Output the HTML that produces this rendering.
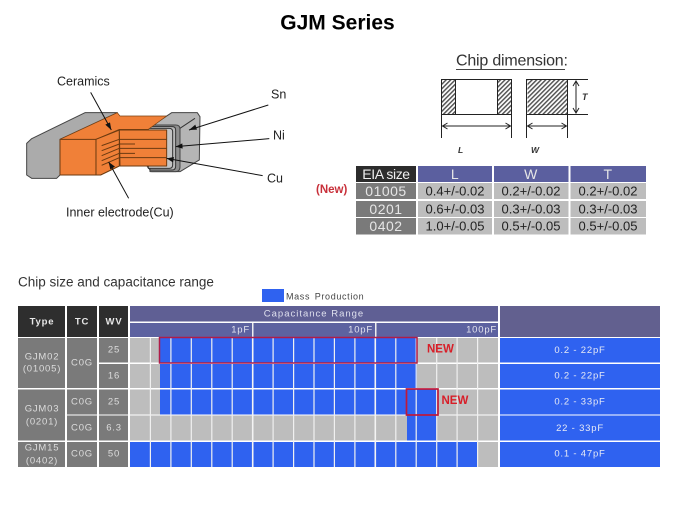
<!DOCTYPE html>
<html><head><meta charset="utf-8"><style>
html,body{margin:0;padding:0;background:#fff}
svg{display:block}
text{font-family:"Liberation Sans",sans-serif;dominant-baseline:central}
.m{text-anchor:middle}
.l{fill:#ddd;font-size:9.5px;letter-spacing:.8px;text-anchor:middle}
.h{fill:#e8e8e8;font-size:9.5px;font-weight:bold;letter-spacing:.8px;text-anchor:middle}
.p{fill:#e4e4ee;font-size:9.5px;letter-spacing:.8px;text-anchor:end}
.b{fill:#e6e9f5;font-size:9.5px;letter-spacing:.8px;text-anchor:middle}
.t{fill:#222;font-size:12.5px}
.d{fill:#222;font-size:13px;text-anchor:middle}
.e{fill:#e6e6e6;font-size:14px;text-anchor:middle;letter-spacing:.5px}
</style></head><body>
<svg width="675" height="506" viewBox="0 0 675 506" xmlns="http://www.w3.org/2000/svg">
<defs>
<pattern id="hatch" width="3.2" height="3.2" patternUnits="userSpaceOnUse" patternTransform="rotate(45)"><rect width="3.2" height="3.2" fill="#fff"/><rect width="1.5" height="3.2" fill="#555"/></pattern>
<marker id="o1" markerWidth="7" markerHeight="8" refX="1" refY="4" orient="auto" markerUnits="userSpaceOnUse"><path d="M6,1L1,4L6,7" fill="none" stroke="#222"/></marker>
<marker id="o2" markerWidth="7" markerHeight="8" refX="6" refY="4" orient="auto" markerUnits="userSpaceOnUse"><path d="M1,1L6,4L1,7" fill="none" stroke="#222"/></marker>
</defs>

<text x="337.5" y="23" class="m" style="font-size:21px;font-weight:bold" fill="#000">GJM Series</text>

<!-- capacitor -->
<g transform="translate(10,60) scale(.3333)" stroke-linejoin="round">
<path d="M415,205L485,158H562L570,170L568,300L510,335H425L412,320Z" fill="#b5b5b5" stroke="#444" stroke-width="3"/>
<path d="M412,195H497Q510,195 510,207V320Q510,335 497,335H420Z" fill="#8f8f8f" stroke="#444" stroke-width="3"/>
<path d="M412,200H487Q497,200 497,210V318Q497,330 487,330H420Z" fill="#b8b8b8" stroke="#333" stroke-width="3"/>
<path d="M412,205H478Q488,205 488,215V315Q488,325 478,325H415Z" fill="#c4c4c4" stroke="#333" stroke-width="3"/>
<path d="M510,205L555,175" stroke="#333" stroke-width="3" fill="none"/>
<path d="M50,250L65,236L225,158H322L150,238V345L140,355H65L50,345Z" fill="#ababab" stroke="#444" stroke-width="3"/>
<path d="M150,238L322,158L330,168H470L415,208H328L258,238Z" fill="#f08038" stroke="#7a4010" stroke-width="2"/>
<path d="M150,238H258V345H150Z" fill="#f08038" stroke="#6b3a10" stroke-width="3"/>
<path d="M258,238L328,210V318L272,345H258Z" fill="#f08038" stroke="#6b3a10" stroke-width="3"/>
<path d="M328,210H470V318H330Z" fill="#f08038" stroke="#6b3a10" stroke-width="3"/>
<g stroke="#6b3a10" stroke-width="3" fill="none">
<path d="M328,238H470M328,265H470M328,293H470"/>
<path d="M330,252H375M330,280H375"/>
<path d="M275,257L328,238M275,272L328,252M275,287L328,265M275,302L328,280M275,316L328,293"/>
</g>
<g stroke="#111" stroke-width="3" fill="none">
<path d="M242,97L304,210"/>
<path d="M775,135L537,210"/>
<path d="M778,236L497,260"/>
<path d="M758,347L470,295"/>
<path d="M356,415L296,306"/>
</g>
<g fill="#111">
<path d="M304,210L286,194L300,187Z"/>
<path d="M537,210L556,194L561,209Z"/>
<path d="M497,260L517,250L518,266Z"/>
<path d="M470,295L492,291L489,307Z"/>
<path d="M296,306L315,320L301,328Z"/>
</g>
</g>
<text x="57" y="81.500" class="t">Ceramics</text>
<text x="271" y="94.500" class="t">Sn</text>
<text x="273" y="135.500" class="t">Ni</text>
<text x="267" y="178.500" class="t">Cu</text>
<text x="66" y="212.500" class="t">Inner electrode(Cu)</text>

<!-- chip dimension -->
<text x="456" y="61" style="font-size:16px;letter-spacing:-.2px" fill="#333">Chip dimension:</text>
<path d="M456,69.500H565" stroke="#444" stroke-width="1"/>
<rect x="441.500" y="79.500" width="14" height="35" fill="url(#hatch)"/>
<rect x="497.500" y="79.500" width="14.500" height="35" fill="url(#hatch)"/>
<rect x="527.500" y="79.500" width="40" height="35" fill="url(#hatch)"/>
<g stroke="#222" stroke-width="1" fill="none">
<path d="M441,79.500H512M441,114.500H512M527,79.500H588M527,114.500H588"/>
<path d="M441.500,79V138M511.500,79V138M526.500,79V138M567.500,79V138M455.500,80V114M497.500,80V114"/>
<path d="M442.500,126H510.500" marker-start="url(#o1)" marker-end="url(#o2)"/>
<path d="M527.500,126H566.500" marker-start="url(#o1)" marker-end="url(#o2)"/>
<path d="M576,81V113" marker-start="url(#o1)" marker-end="url(#o2)"/>
</g>
<g style="font-style:italic;font-weight:bold;font-size:8.500px" fill="#333">
<text x="582" y="97" style="font-size:9px">T</text>
<text x="458" y="150">L</text>
<text x="531" y="150">W</text>
</g>

<!-- EIA table -->
<rect x="356" y="166" width="60" height="16" fill="#2c2c2c"/>
<g fill="#5b5f9f"><rect x="418" y="166" width="74" height="16"/><rect x="494" y="166" width="74.500" height="16"/><rect x="570.500" y="166" width="75.500" height="16"/></g>
<g fill="#7a7a7a"><rect x="356" y="183" width="60" height="16"/><rect x="356" y="201" width="60" height="16"/><rect x="356" y="218" width="60" height="16.500"/></g>
<g fill="#bdbdbd">
<rect x="418" y="183" width="74" height="16"/><rect x="494" y="183" width="74.500" height="16"/><rect x="570.500" y="183" width="75.500" height="16"/>
<rect x="418" y="201" width="74" height="16"/><rect x="494" y="201" width="74.500" height="16"/><rect x="570.500" y="201" width="75.500" height="16"/>
<rect x="418" y="218" width="74" height="16.500"/><rect x="494" y="218" width="74.500" height="16.500"/><rect x="570.500" y="218" width="75.500" height="16.500"/>
</g>
<text x="386" y="174" class="m" style="font-size:14px;letter-spacing:-.4px" fill="#eee">EIA size</text>
<text x="455" y="174" class="e" fill="#ddd">L</text><text x="531" y="174" class="e">W</text><text x="608" y="174" class="e">T</text>
<text x="386" y="191" class="e">01005</text><text x="386" y="209" class="e">0201</text><text x="386" y="226" class="e">0402</text>
<text x="455" y="191" class="d">0.4+/-0.02</text><text x="531" y="191" class="d">0.2+/-0.02</text><text x="608" y="191" class="d">0.2+/-0.02</text>
<text x="455" y="209" class="d">0.6+/-0.03</text><text x="531" y="209" class="d">0.3+/-0.03</text><text x="608" y="209" class="d">0.3+/-0.03</text>
<text x="455" y="226" class="d">1.0+/-0.05</text><text x="531" y="226" class="d">0.5+/-0.05</text><text x="608" y="226" class="d">0.5+/-0.05</text>
<text x="316" y="190" style="font-size:11.500px;font-weight:bold" fill="#c8303a">(New)</text>

<!-- lower section -->
<text x="18" y="282" style="font-size:13.500px" fill="#333">Chip size and capacitance range</text>
<rect x="262" y="289" width="22" height="13" fill="#2f62f0"/>
<text x="286" y="296.500" style="font-size:9px;letter-spacing:.65px;word-spacing:1.500px" fill="#444">Mass Production</text>

<g fill="#2e2e2e"><rect x="18" y="306" width="47" height="31"/><rect x="67" y="306" width="30" height="31"/><rect x="99" y="306" width="29" height="31"/></g>
<text x="42" y="322" class="h">Type</text><text x="82" y="322" class="h">TC</text><text x="114" y="322" class="h">WV</text>

<rect x="130" y="306" width="368" height="15.500" fill="#5f5f94"/>
<rect x="130" y="323" width="368" height="14" fill="#5d62a0"/>
<rect x="500" y="306" width="160" height="31" fill="#62608f"/>
<rect x="252" y="323" width="1.500" height="14" fill="#eee"/><rect x="375" y="323" width="1.500" height="14" fill="#eee"/>
<text x="314" y="314" class="m" style="font-size:9.500px;letter-spacing:1px" fill="#dfe0ee">Capacitance Range</text>
<text x="250" y="330" class="p">1pF</text><text x="373" y="330" class="p">10pF</text><text x="497" y="330" class="p">100pF</text>

<g fill="#7a7a7a">
<rect x="18" y="338" width="47" height="50"/><rect x="67" y="338" width="30" height="50"/>
<rect x="99" y="338" width="29" height="24.500"/><rect x="99" y="364" width="29" height="24"/>
<rect x="18" y="389.500" width="47" height="51"/>
<rect x="67" y="389.500" width="30" height="25"/><rect x="67" y="415.500" width="30" height="25"/>
<rect x="99" y="389.500" width="29" height="25"/><rect x="99" y="415.500" width="29" height="25"/>
<rect x="18" y="442" width="47" height="25"/><rect x="67" y="442" width="30" height="25"/><rect x="99" y="442" width="29" height="25"/>
</g>
<text x="42" y="357" class="l">GJM02</text><text x="42" y="369" class="l">(01005)</text>
<text x="82" y="363" class="l">C0G</text><text x="114" y="350" class="l">25</text><text x="114" y="376" class="l">16</text>
<text x="42" y="409" class="l">GJM03</text><text x="42" y="422" class="l">(0201)</text>
<text x="82" y="402" class="l">C0G</text><text x="82" y="428" class="l">C0G</text>
<text x="114" y="402" class="l">25</text><text x="114" y="428" class="l">6.3</text>
<text x="42" y="448" class="l">GJM15</text><text x="42" y="461" class="l">(0402)</text>
<text x="82" y="454" class="l">C0G</text><text x="114" y="454" class="l">50</text>

<!-- grid -->
<g fill="#bdbdbd">
<rect x="130" y="338" width="368" height="24.500"/><rect x="130" y="364" width="368" height="24"/>
<rect x="130" y="389.500" width="368" height="25"/><rect x="130" y="415.500" width="368" height="25"/>
<rect x="130" y="442" width="368" height="25"/>
</g>
<g fill="#2f62f0">
<rect x="160" y="338" width="257" height="24.500"/><rect x="160" y="364" width="257" height="24"/>
<rect x="160" y="389.500" width="277" height="25"/><rect x="407" y="415.500" width="30" height="25"/>
<rect x="130" y="442" width="348" height="25"/>
<rect x="500" y="338" width="160" height="24.500"/><rect x="500" y="364" width="160" height="24"/>
<rect x="500" y="389.500" width="160" height="25"/><rect x="500" y="415.500" width="160" height="25"/>
<rect x="500" y="442" width="160" height="25"/>
</g>
<path d="M150.400,338V467M170.900,338V467M191.300,338V467M211.800,338V467M232.200,338V467M273.100,338V467M293.600,338V467M314,338V467M334.400,338V467M354.900,338V467M395.800,338V467M416.200,338V467M436.700,338V467M457.100,338V467M477.600,338V467" stroke="#f0f0f0" stroke-width="1.200" fill="none"/>
<path d="M252.700,338V467M375.300,338V467" stroke="#f4f4f4" stroke-width="1.600" fill="none"/>
<rect x="159.500" y="337.500" width="257.500" height="25.500" fill="none" stroke="#b01c48" stroke-width="1.500"/>
<rect x="406.500" y="389" width="31.500" height="26" fill="none" stroke="#c01838" stroke-width="1.700"/>
<text x="427" y="349.500" style="font-size:11.500px;font-weight:bold" fill="#d81e28">NEW</text>
<text x="441.500" y="401" style="font-size:11.500px;font-weight:bold" fill="#d81e28">NEW</text>
<text x="580" y="350.500" class="b">0.2 - 22pF</text>
<text x="580" y="376" class="b">0.2 - 22pF</text>
<text x="580" y="402" class="b">0.2 - 33pF</text>
<text x="580" y="428.500" class="b">22 - 33pF</text>
<text x="580" y="454" class="b">0.1 - 47pF</text>
</svg>
</body></html>
